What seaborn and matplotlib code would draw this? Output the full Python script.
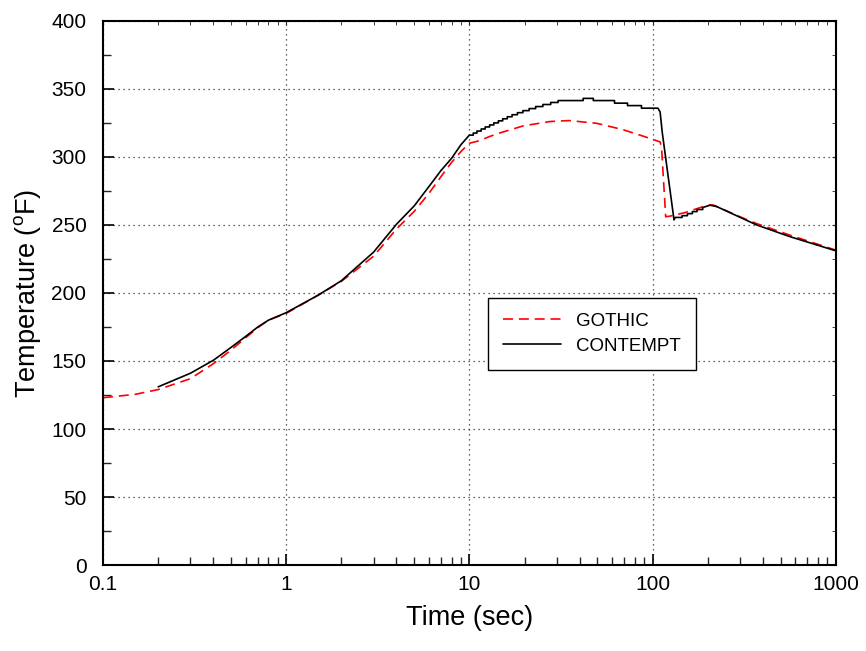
"""GOTHIC vs CONTEMPT 温度曲线对比"""

import numpy as np
import pandas as pd
import matplotlib
matplotlib.use("Agg")
import matplotlib.pyplot as plt
from matplotlib.ticker import NullFormatter, MultipleLocator, LogLocator
import seaborn as sns

# GOTHIC (red dashed)
gothic_t = [0.1, 0.15, 0.2, 0.3, 0.4, 0.5, 0.6, 0.7, 0.8, 1.0, 1.5, 2.0, 3.0, 4.0,
            5.0, 6.0, 7.0, 8.0, 9.0, 10.0, 11.4, 12.9, 15.0, 19.7, 27.6, 35.0, 49.5,
            69.0, 90.0, 110.0, 112.0, 118.0, 125.0, 150.0, 175.0, 200.0, 214.0,
            300.0, 370.0, 562.0, 1000.0]
gothic_T = [123, 125.5, 129, 137, 148, 158, 167, 174.5, 180, 185, 198.5, 208.5, 227, 247,
            260, 273, 285.5, 296, 304, 310, 312, 315, 318, 322.8, 326, 326.7, 324.7,
            320, 315, 311, 307, 256, 256.5, 259, 262, 264.5, 264.7,
            256, 251, 242.5, 231.5]

# CONTEMPT (black solid) — smooth rise
contempt_rise_t = [0.2, 0.3, 0.4, 0.5, 0.6, 0.7, 0.8, 1.0, 1.5, 2.0, 3.0, 4.0, 5.0,
                   6.0, 7.0, 8.0, 9.0, 10.0]
contempt_rise_T = [131, 141, 150.5, 160, 168, 175, 180, 185.5, 198.5, 209, 230, 250.5,
                   264, 278, 290, 299, 309, 316]
# stair-stepped plateau: step time, level after the step
plateau_step_t = [10.5, 11.0, 11.6, 12.2, 12.9, 13.6, 14.4, 15.2, 16.1, 17.1, 18.3,
                  19.6, 21.2, 23.0, 25.2, 27.8, 30.5, 41.8, 47.5, 62.0, 73.0, 87.0]
plateau_step_T = [317.5, 319, 320.5, 322, 323.5, 325, 326.5, 328, 329.5, 331, 332.5,
                  334, 335.5, 337, 338.5, 340, 341.4, 343, 341.4, 339.5, 337.7, 335.8]
# drop
contempt_drop_t = [107.0, 110.0, 113.0, 131.0, 133.0]
contempt_drop_T = [335.8, 333, 318, 253.7, 255.5]
# second stair segment
reheat_step_t = [145.0, 155.0, 165.0, 175.0, 188.0]
reheat_step_T = [256.8, 258.3, 259.8, 261.3, 262.8]
# tail
contempt_tail_t = [206.0, 224.0, 370.0, 562.0, 1000.0]
contempt_tail_T = [264.5, 263.5, 250, 241.4, 231]

x_ticks = [0.1, 1, 10, 100, 1000]
x_tick_labels = ["0.1", "1", "10", "100", "1000"]


def stairs(t_list, T_list, prev):
    ts, Ts = [], []
    for t, T in zip(t_list, T_list):
        ts += [t, t]
        Ts += [prev, T]
        prev = T
    return ts, Ts


p_t, p_T = stairs(plateau_step_t, plateau_step_T, contempt_rise_T[-1])
r_t, r_T = stairs(reheat_step_t, reheat_step_T, contempt_drop_T[-1])
contempt_t = contempt_rise_t + p_t + contempt_drop_t + r_t + contempt_tail_t
contempt_T = contempt_rise_T + p_T + contempt_drop_T + r_T + contempt_tail_T

sns.set_style("ticks")
plt.rcParams["font.family"] = ["Liberation Sans", "DejaVu Sans"]
plt.rcParams["mathtext.fontset"] = "custom"
plt.rcParams["mathtext.rm"] = "Liberation Sans"
plt.rcParams["text.color"] = "black"
plt.rcParams["axes.labelcolor"] = "black"

fig, ax = plt.subplots(figsize=(8.66, 6.51), dpi=100)
fig.subplots_adjust(left=0.119, right=0.965, top=0.968, bottom=0.132)

df_g = pd.DataFrame({"t": gothic_t, "T": gothic_T})
df_c = pd.DataFrame({"t": contempt_t, "T": contempt_T})
sns.lineplot(data=df_g, x="t", y="T", ax=ax, color="#ff0000", dashes=False,
             linestyle=(0, (6, 3.5)), linewidth=1.2, estimator=None, sort=False,
             label="GOTHIC")
sns.lineplot(data=df_c, x="t", y="T", ax=ax, color="black",
             linewidth=1.2, estimator=None, sort=False, label="CONTEMPT")

ax.set_xscale("log")
ax.set_xlim(0.1, 1000)
ax.set_ylim(0, 400)
ax.set_xticks(x_ticks)
ax.set_xticklabels(x_tick_labels)
ax.xaxis.set_minor_locator(LogLocator(base=10, subs=np.arange(2, 10)))
ax.xaxis.set_minor_formatter(NullFormatter())
ax.yaxis.set_major_locator(MultipleLocator(50))
ax.yaxis.set_minor_locator(MultipleLocator(25))

ax.grid(True, which="major", linestyle=(0, (1, 3)), color="#333333", linewidth=0.9)
for s in ax.spines.values():
    s.set_visible(True)
    s.set_linewidth(1.5)
    s.set_color("black")

ax.tick_params(which="major", direction="in", length=8, width=1.2, labelsize=15,
               colors="black", pad=7)
ax.tick_params(which="minor", direction="in", length=6, width=1.0)
ax.tick_params(axis="y", which="major", pad=12)

# 上/右侧短刻度
top = ax.secondary_xaxis("top")
top.set_xticks(x_ticks)
top.xaxis.set_minor_locator(LogLocator(base=10, subs=np.arange(2, 10)))
top.xaxis.set_minor_formatter(NullFormatter())
top.tick_params(which="both", direction="in", length=3, labeltop=False)
top.spines["top"].set_visible(False)
right = ax.secondary_yaxis("right")
right.yaxis.set_major_locator(MultipleLocator(50))
right.yaxis.set_minor_locator(MultipleLocator(25))
right.tick_params(which="both", direction="in", length=3, labelright=False)
right.spines["right"].set_visible(False)

ax.set_xlabel("Time (sec)", fontsize=19.5, labelpad=8)
ax.set_ylabel("Temperature ($^{\\mathrm{o}}$F)", fontsize=19.5, labelpad=6)

leg = ax.legend(loc="upper left", bbox_to_anchor=(0.525, 0.491), borderaxespad=0,
                fontsize=13.5, frameon=True, fancybox=False, edgecolor="black",
                handlelength=3.1, handletextpad=0.8, borderpad=0.8, labelspacing=0.4)
leg.get_frame().set_linewidth(1.0)
leg.get_frame().set_alpha(1)

fig.savefig("out.png", dpi=100)
